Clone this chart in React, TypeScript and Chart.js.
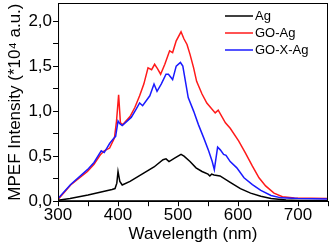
import React, { useEffect, useRef } from "react";
import { Chart, registerables } from "chart.js";

Chart.register(...registerables);

const seriesNames = ["Ag", "GO-Ag", "GO-X-Ag"];
const seriesColors = ["#000000", "#ff1a1a", "#1a1aff"];

const agWl = [300, 320, 350, 370, 390, 395, 398, 400, 403, 407, 420, 440, 460, 475, 480, 485, 495, 505, 510, 520, 530, 540, 550, 553, 556, 560, 570, 587, 604, 621, 638, 655, 680, 700, 750];
const agVal = [0.01, 0.03, 0.07, 0.1, 0.13, 0.14, 0.2, 0.33, 0.22, 0.18, 0.22, 0.3, 0.38, 0.46, 0.47, 0.44, 0.48, 0.52, 0.5, 0.44, 0.37, 0.33, 0.3, 0.28, 0.3, 0.29, 0.28, 0.21, 0.14, 0.09, 0.055, 0.03, 0.012, 0.008, 0.005];

const goAgWl = [300, 321, 349, 360, 371, 377, 386, 394, 397.5, 401, 404, 408, 420, 428, 436, 443, 450, 456, 461, 466, 471, 478, 486, 491, 497, 505, 510, 515, 520, 526, 531, 540, 548, 562, 567, 579, 587, 601, 612, 624, 635, 646, 660, 674, 694, 750];
const goAgVal = [0.02, 0.18, 0.33, 0.41, 0.52, 0.56, 0.59, 0.7, 0.89, 1.18, 0.87, 0.85, 0.94, 1.04, 1.17, 1.3, 1.48, 1.46, 1.52, 1.47, 1.41, 1.52, 1.67, 1.65, 1.78, 1.88, 1.8, 1.74, 1.63, 1.48, 1.33, 1.19, 1.09, 0.98, 1.01, 0.87, 0.81, 0.67, 0.54, 0.39, 0.26, 0.17, 0.09, 0.05, 0.035, 0.03];

const goXAgWl = [300, 321, 349, 360, 372, 377, 386, 393, 396, 400, 403, 407, 422, 430, 436, 441, 453, 460, 465, 472, 480, 484, 491, 497, 504, 508, 517, 526, 534, 543, 551, 557, 560.5, 566, 570.5, 576, 580, 587, 598, 610, 624, 638, 655, 672, 700, 750];
const goXAgVal = [0.03, 0.185, 0.35, 0.43, 0.56, 0.54, 0.64, 0.7, 0.72, 0.89, 0.86, 0.84, 0.93, 1.02, 1.09, 1.06, 1.17, 1.3, 1.22, 1.3, 1.41, 1.41, 1.35, 1.5, 1.54, 1.5, 1.15, 1.0, 0.85, 0.7, 0.56, 0.44, 0.35, 0.6, 0.57, 0.52, 0.51, 0.44, 0.37, 0.26, 0.185, 0.12, 0.063, 0.037, 0.03, 0.025];

const xTicksMajor = [300, 400, 500, 600, 700];
const yTicksMajor = [0, 0.5, 1.0, 1.5, 2.0];

const FONT = "'Liberation Sans', Arial, sans-serif";

const toPoints = (wl: number[], v: number[]) => wl.map((x, i) => ({ x, y: v[i] }));

const framePlugin = {
  id: "frame",
  afterDraw(chart: any) {
    const { ctx, chartArea } = chart;
    ctx.save();
    ctx.strokeStyle = "#000";
    ctx.lineWidth = 1;
    ctx.strokeRect(chartArea.left + 0.5, chartArea.top + 0.5, chartArea.right - chartArea.left - 1, chartArea.bottom - chartArea.top - 1);
    // legend
    const x0 = chartArea.right - 103;
    const x1 = x0 + 28;
    ctx.font = `13px ${FONT}`;
    ctx.textBaseline = "middle";
    chart.data.datasets.forEach((ds: any, i: number) => {
      const y = chartArea.top + 13 + i * 17;
      ctx.strokeStyle = ds.borderColor;
      ctx.lineWidth = 1.5;
      ctx.beginPath();
      ctx.moveTo(x0, y);
      ctx.lineTo(x1, y);
      ctx.stroke();
      ctx.fillStyle = "#000";
      ctx.fillText(ds.label, x1 + 2, y);
    });
    ctx.restore();
  },
};

export default function App() {
  const ref = useRef<HTMLCanvasElement>(null);
  useEffect(() => {
    document.body.style.margin = "0";
    const data = [toPoints(agWl, agVal), toPoints(goAgWl, goAgVal), toPoints(goXAgWl, goXAgVal)];
    const orders = [0, 2, 1];
    const chart = new Chart(ref.current!, {
      type: "line",
      data: {
        datasets: seriesNames.map((name, i) => ({
          label: name,
          data: data[i],
          borderColor: seriesColors[i],
          backgroundColor: seriesColors[i],
          borderWidth: 1.5,
          pointRadius: 0,
          tension: 0,
          order: orders[i],
        })),
      },
      options: {
        responsive: false,
        animation: false,
        layout: { padding: { left: 5, right: 3, top: 3, bottom: 0 } },
        plugins: { legend: { display: false }, tooltip: { enabled: false } },
        scales: {
          x: {
            type: "linear",
            min: 300,
            max: 750,
            afterBuildTicks: (axis: any) => {
              const t: any[] = [];
              for (let v = 300; v <= 750; v += 50) t.push({ value: v });
              axis.ticks = t;
            },
            ticks: {
              autoSkip: false,
              maxRotation: 0,
              padding: -1,
              color: "#000",
              font: { family: FONT, size: 17 },
              callback: (v: any) => (xTicksMajor.includes(Number(v)) ? String(v) : ""),
            },
            grid: { drawOnChartArea: false, drawTicks: true, tickLength: 5, color: "#000" },
            border: { display: true, color: "#000", width: 1 },
            title: { display: true, text: "Wavelength (nm)", color: "#000", font: { family: FONT, size: 17 }, padding: { top: 0, bottom: 0 } },
          },
          y: {
            type: "linear",
            min: 0,
            max: 2.2,
            afterBuildTicks: (axis: any) => {
              const t: any[] = [];
              for (let k = 0; k <= 8; k++) t.push({ value: k * 0.25 });
              axis.ticks = t;
            },
            afterFit: (axis: any) => {
              axis.paddingTop = 0;
              axis.paddingBottom = 0;
            },
            ticks: {
              autoSkip: false,
              padding: 1,
              color: "#000",
              font: { family: FONT, size: 17 },
              callback: (v: any) => {
                const n = Number(v);
                const m = yTicksMajor.find((t) => Math.abs(t - n) < 1e-6);
                return m !== undefined ? m.toFixed(1).replace(".", ",") : "";
              },
            },
            grid: { drawOnChartArea: false, drawTicks: true, tickLength: 5, color: "#000" },
            border: { display: true, color: "#000", width: 1 },
            title: { display: true, text: "MPEF Intensity (*10\u2074 a.u.)", color: "#000", font: { family: FONT, size: 17 }, padding: { top: 0, bottom: 2 } },
          },
        },
      },
      plugins: [framePlugin],
    });
    return () => chart.destroy();
  }, []);
  return (
    <div style={{ width: 331, height: 245 }}>
      <canvas ref={ref} width={331} height={245} />
    </div>
  );
}
